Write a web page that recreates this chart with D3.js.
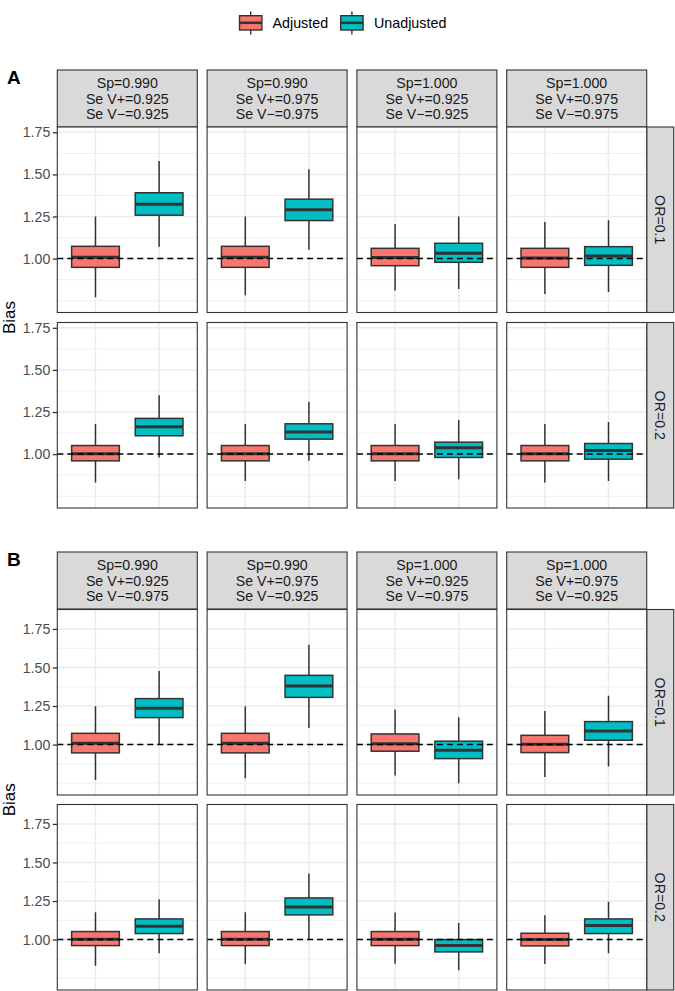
<!DOCTYPE html>
<html><head><meta charset="utf-8">
<script src="https://cdn.jsdelivr.net/npm/d3@7"></script>
<style>body{margin:0;background:#fff} svg{display:block;font-family:"Liberation Sans",Arial,Helvetica,sans-serif}</style>
</head><body><svg id="chart" width="675" height="991"></svg>
<script>
const groups = ["Adjusted", "Unadjusted"];
const groupColors = ["#F8766D", "#00BFC4"];
const figureLabels = ["A", "B"];
const rowLabels = ["OR=0.1", "OR=0.2"];
const yTicks = [1.00, 1.25, 1.50, 1.75];
const yMinor = [0.75, 0.875, 1.125, 1.375, 1.625, 1.875];
const refLine = 1.0;

const stripA = [
  ["Sp=0.990", "Se V+=0.925", "Se V\u2212=0.925"],
  ["Sp=0.990", "Se V+=0.975", "Se V\u2212=0.975"],
  ["Sp=1.000", "Se V+=0.925", "Se V\u2212=0.925"],
  ["Sp=1.000", "Se V+=0.975", "Se V\u2212=0.975"]
];
const stripB = [
  ["Sp=0.990", "Se V+=0.925", "Se V\u2212=0.975"],
  ["Sp=0.990", "Se V+=0.975", "Se V\u2212=0.925"],
  ["Sp=1.000", "Se V+=0.925", "Se V\u2212=0.975"],
  ["Sp=1.000", "Se V+=0.975", "Se V\u2212=0.925"]
];

// box statistics per panel: [ymin, lower, middle, upper, ymax]
const adjA_OR01 = [[0.770,0.948,1.008,1.073,1.250],[0.782,0.948,1.008,1.073,1.250],[0.810,0.958,1.006,1.061,1.206],[0.790,0.948,1.004,1.061,1.218]];
const unadjA_OR01 = [[1.071,1.258,1.323,1.391,1.579],[1.052,1.226,1.290,1.353,1.530],[0.819,0.978,1.032,1.091,1.250],[0.802,0.960,1.016,1.071,1.228]];
const adjA_OR02 = [[0.831,0.960,1.002,1.051,1.179],[0.841,0.960,1.002,1.051,1.179],[0.841,0.960,1.002,1.051,1.179],[0.831,0.960,1.002,1.051,1.179]];
const unadjA_OR02 = [[0.980,1.109,1.163,1.212,1.349],[0.960,1.089,1.131,1.180,1.311],[0.851,0.980,1.038,1.071,1.202],[0.841,0.970,1.021,1.063,1.190]];
const adjB_OR01 = [[0.771,0.946,1.009,1.073,1.248],[0.782,0.946,1.009,1.073,1.248],[0.799,0.957,1.006,1.069,1.227],[0.789,0.948,1.002,1.060,1.218]];
const unadjB_OR01 = [[1.000,1.175,1.235,1.298,1.477],[1.108,1.306,1.380,1.449,1.647],[0.750,0.909,0.963,1.022,1.177],[0.858,1.028,1.088,1.149,1.317]];
const adjB_OR02 = [[0.831,0.961,1.002,1.052,1.177],[0.842,0.961,1.002,1.052,1.177],[0.844,0.961,1.002,1.052,1.175],[0.842,0.959,1.000,1.041,1.158]];
const unadjB_OR02 = [[0.911,1.039,1.086,1.134,1.261],[1.000,1.160,1.212,1.270,1.428],[0.801,0.920,0.961,1.000,1.108],[0.911,1.039,1.091,1.134,1.246]];

const figures = [
  { label: figureLabels[0], strips: stripA, rows: [[adjA_OR01, unadjA_OR01], [adjA_OR02, unadjA_OR02]],
    domain: [0.680, 1.7815], stripTop: 70, rowTops: [127, 322.5] },
  { label: figureLabels[1], strips: stripB, rows: [[adjB_OR01, unadjB_OR01], [adjB_OR02, unadjB_OR02]],
    domain: [0.673, 1.876], stripTop: 552, rowTops: [609.5, 804.5] }
];

const svg = d3.select("#chart");
const left0 = 57.3, panelW = 140, gapX = 9.8, panelH = 185.5, stripH = 57, rStripW = 27;
const colX = d3.range(4).map(i => left0 + i * (panelW + gapX));
const x = d3.scalePoint().domain(groups).range([0, panelW]).padding(0.6);
const boxW = x.step() * 0.75;
const dark = "#333333";

// Legend
const legItems = [{ g: groups[0], c: groupColors[0], kx: 239.5, tx: 272.5 }, { g: groups[1], c: groupColors[1], kx: 340.7, tx: 374 }];
legItems.forEach(d => {
  const lg = svg.append("g");
  const kw = 22.4;
  lg.append("line").attr("x1", d.kx + kw / 2).attr("x2", d.kx + kw / 2).attr("y1", 11.5).attr("y2", 34.5).attr("stroke", dark).attr("stroke-width", 1.4);
  lg.append("rect").attr("x", d.kx).attr("y", 15.7).attr("width", kw).attr("height", 14.3).attr("fill", d.c).attr("stroke", dark).attr("stroke-width", 1.4);
  lg.append("line").attr("x1", d.kx).attr("x2", d.kx + kw).attr("y1", 22.8).attr("y2", 22.8).attr("stroke", dark).attr("stroke-width", 2.6);
  lg.append("text").attr("x", d.tx).attr("y", 27.8).attr("font-size", 14.3).attr("fill", "#000").text(d.g);
});

figures.forEach(fig => {
  const g = svg.append("g");
  g.append("text").attr("x", 7).attr("y", fig.stripTop + 14.2).attr("font-size", 19).attr("font-weight", "bold").attr("fill", "#000").text(fig.label);

  // column strips
  fig.strips.forEach((lines, ci) => {
    g.append("rect").attr("x", colX[ci]).attr("y", fig.stripTop).attr("width", panelW).attr("height", stripH)
      .attr("fill", "#d9d9d9").attr("stroke", dark).attr("stroke-width", 1.1);
    lines.forEach((t, li) => {
      g.append("text").attr("x", colX[ci] + panelW / 2).attr("y", fig.stripTop + stripH / 2 + (li - 1) * 15.2 + 5)
        .attr("text-anchor", "middle").attr("font-size", 14.2).attr("fill", "#1a1a1a").text(t);
    });
  });

  fig.rows.forEach((rowData, ri) => {
    const top = fig.rowTops[ri];
    const y = d3.scaleLinear().domain(fig.domain).range([top + panelH, top]);
    const [adj, unadj] = rowData;

    // row strip
    const rx = colX[3] + panelW;
    g.append("rect").attr("x", rx).attr("y", top).attr("width", rStripW).attr("height", panelH)
      .attr("fill", "#d9d9d9").attr("stroke", dark).attr("stroke-width", 1.1);
    g.append("text").attr("transform", `translate(${rx + rStripW / 2 - 5},${top + panelH / 2}) rotate(90)`)
      .attr("text-anchor", "middle").attr("font-size", 14.2).attr("fill", "#1a1a1a").text(rowLabels[ri]);

    // y axis (first column)
    const axis = d3.axisLeft(y).tickValues(yTicks).tickFormat(d3.format(".2f")).tickSize(4.5).tickPadding(2.5);
    const ag = g.append("g").attr("transform", `translate(${colX[0]},0)`).call(axis);
    ag.select(".domain").remove();
    ag.selectAll(".tick line").attr("stroke", dark).attr("stroke-width", 1.3);
    ag.selectAll(".tick text").attr("font-size", 14.2).attr("fill", "#4d4d4d").attr("font-family", "Liberation Sans, Arial, sans-serif");

    colX.forEach((cx, ci) => {
      const p = g.append("g").attr("transform", `translate(${cx},0)`);
      p.append("rect").attr("x", 0).attr("y", top).attr("width", panelW).attr("height", panelH).attr("fill", "#fff");
      const clipId = `clip-${fig.label}-${ri}-${ci}`;
      p.append("clipPath").attr("id", clipId).append("rect").attr("x", 0).attr("y", top).attr("width", panelW).attr("height", panelH);
      const inner = p.append("g").attr("clip-path", `url(#${clipId})`);
      yMinor.forEach(v => inner.append("line").attr("x1", 0).attr("x2", panelW).attr("y1", y(v)).attr("y2", y(v)).attr("stroke", "#ebebeb").attr("stroke-width", 0.8));
      yTicks.forEach(v => inner.append("line").attr("x1", 0).attr("x2", panelW).attr("y1", y(v)).attr("y2", y(v)).attr("stroke", "#ebebeb").attr("stroke-width", 1.5));
      groups.forEach(gr => inner.append("line").attr("x1", x(gr)).attr("x2", x(gr)).attr("y1", top).attr("y2", top + panelH).attr("stroke", "#ebebeb").attr("stroke-width", 1.5));

      [adj[ci], unadj[ci]].forEach((s, gi) => {
        const cxg = x(groups[gi]);
        const [ymin, lower, middle, upper, ymax] = s;
        inner.append("line").attr("x1", cxg).attr("x2", cxg).attr("y1", y(upper)).attr("y2", y(ymax)).attr("stroke", dark).attr("stroke-width", 1.5);
        inner.append("line").attr("x1", cxg).attr("x2", cxg).attr("y1", y(lower)).attr("y2", y(ymin)).attr("stroke", dark).attr("stroke-width", 1.5);
        inner.append("rect").attr("x", cxg - boxW / 2).attr("y", y(upper)).attr("width", boxW).attr("height", y(lower) - y(upper))
          .attr("fill", groupColors[gi]).attr("stroke", dark).attr("stroke-width", 1.5);
        inner.append("line").attr("x1", cxg - boxW / 2).attr("x2", cxg + boxW / 2).attr("y1", y(middle)).attr("y2", y(middle)).attr("stroke", dark).attr("stroke-width", 3);
      });

      inner.append("line").attr("x1", 0).attr("x2", panelW).attr("y1", y(refLine)).attr("y2", y(refLine))
        .attr("stroke", "#000").attr("stroke-width", 1.5).attr("stroke-dasharray", "6,4");
      p.append("rect").attr("x", 0).attr("y", top).attr("width", panelW).attr("height", panelH)
        .attr("fill", "none").attr("stroke", dark).attr("stroke-width", 1.1);
    });

    g.append("text").attr("transform", `translate(15,0) rotate(-90)`).attr("x", 0).attr("y", 0)
      .attr("transform", `translate(14.5,${(fig.rowTops[0] + fig.rowTops[1] + panelH) / 2}) rotate(-90)`)
      .attr("text-anchor", "middle").attr("font-size", 17).attr("fill", "#000").text(ri === 0 ? "Bias" : "")
      .remove();
  });

  g.append("text").attr("transform", `translate(14.5,${(fig.rowTops[0] + fig.rowTops[1] + panelH) / 2}) rotate(-90)`)
    .attr("text-anchor", "middle").attr("font-size", 17).attr("fill", "#000").text("Bias");
});
</script></body></html>
